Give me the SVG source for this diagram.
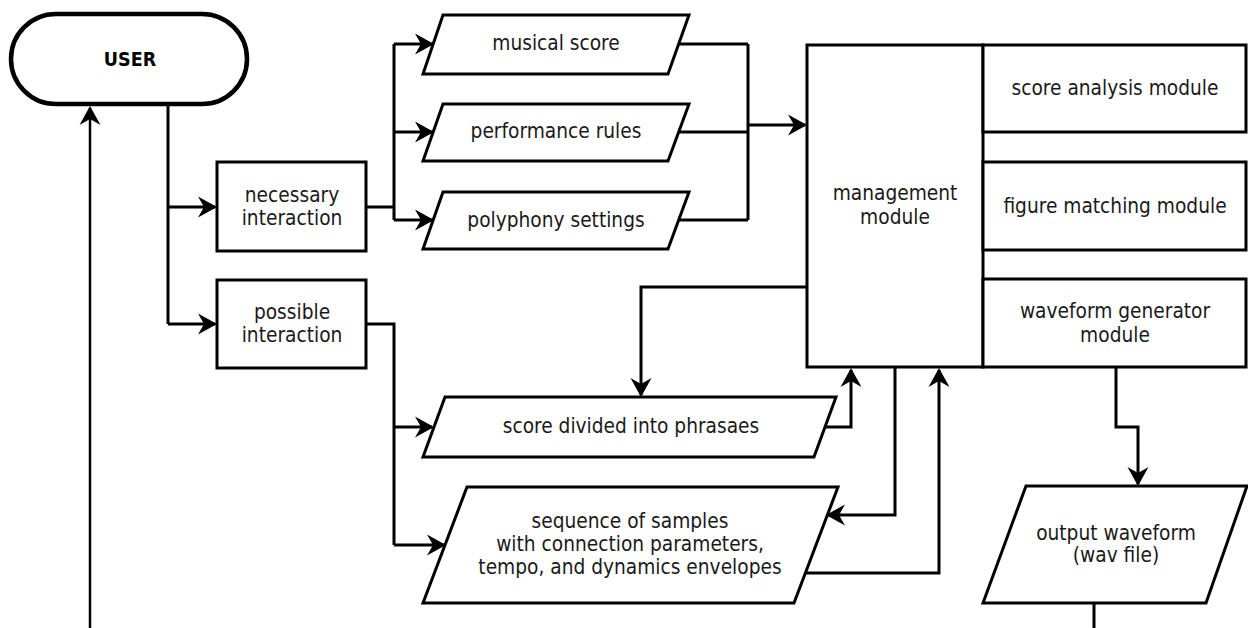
<svg xmlns="http://www.w3.org/2000/svg" width="1248" height="628" viewBox="0 0 1248 628">
<style>
.box{fill:#fff;stroke:#000;stroke-width:3}
.t{font-family:"DejaVu Sans Condensed","DejaVu Sans",sans-serif;font-size:20.7px;fill:#1a1a1a;text-anchor:middle}
.b{font-weight:bold;font-size:19.5px;fill:#000}
.c{fill:none;stroke:#000;stroke-width:3}
</style>
<defs>
<marker id="ah" markerUnits="userSpaceOnUse" markerWidth="20" markerHeight="22" viewBox="0 0 20 22" refX="17" refY="11" orient="auto">
<path d="M0,0.5 L19,11 L0,21.5 L6,11 Z" fill="#000"/>
</marker>
</defs>
<g id="connectors">
<path class="c" style="stroke-width:2.5" d="M90,628 V108" marker-end="url(#ah)"/>
<path class="c" d="M168,104 V324"/>
<path class="c" d="M168,207 H215" marker-end="url(#ah)"/>
<path class="c" d="M168,324 H215" marker-end="url(#ah)"/>
<path class="c" d="M366,207 H394 M394,44 V220"/>
<path class="c" d="M394,44 H432" marker-end="url(#ah)"/>
<path class="c" d="M394,132 H432" marker-end="url(#ah)"/>
<path class="c" d="M394,220 H432" marker-end="url(#ah)"/>
<path class="c" d="M678,44 H748 M678,132 H748 M678,220 H748 M748,44 V220"/>
<path class="c" d="M748,125 H805" marker-end="url(#ah)"/>
<path class="c" d="M807,287 H641 V395" marker-end="url(#ah)"/>
<path class="c" d="M825,427 H851 V370" marker-end="url(#ah)"/>
<path class="c" d="M366,324 H394 V545"/>
<path class="c" d="M394,427 H432" marker-end="url(#ah)"/>
<path class="c" d="M394,545 H444" marker-end="url(#ah)"/>
<path class="c" d="M895,367 V515 H828" marker-end="url(#ah)"/>
<path class="c" d="M806,573 H939 V370" marker-end="url(#ah)"/>
<path class="c" d="M1116,367 V427 H1138 V484" marker-end="url(#ah)"/>
<path class="c" d="M1094,603 V628"/>
</g>
<g id="user">
<rect x="11" y="14" width="236" height="90" rx="45" ry="45" fill="#fff" stroke="#000" stroke-width="4.5"/>
<text class="t b" x="130" y="66">USER</text>
</g>
<g id="necessary">
<rect class="box" x="217" y="162" width="149" height="89"/>
<text class="t" x="292" y="202">necessary</text>
<text class="t" x="292" y="225">interaction</text>
</g>
<g id="possible">
<rect class="box" x="217" y="280" width="149" height="88"/>
<text class="t" x="292" y="319">possible</text>
<text class="t" x="292" y="342">interaction</text>
</g>
<g id="musical-score">
<polygon class="box" points="443,15 689,15 668,74 423,74"/>
<text class="t" x="556" y="50">musical score</text>
</g>
<g id="performance-rules">
<polygon class="box" points="443,104 689,104 668,161 423,161"/>
<text class="t" x="556" y="138">performance rules</text>
</g>
<g id="polyphony-settings">
<polygon class="box" points="443,192 689,192 668,249 423,249"/>
<text class="t" x="556" y="227">polyphony settings</text>
</g>
<g id="management">
<rect class="box" x="807" y="45" width="176" height="322"/>
<text class="t" x="895" y="200">management</text>
<text class="t" x="895" y="224">module</text>
</g>
<g id="score-analysis">
<rect class="box" x="983" y="45" width="263" height="87"/>
<text class="t" x="1115" y="95">score analysis module</text>
</g>
<g id="figure-matching">
<rect class="box" x="983" y="162" width="263" height="88"/>
<text class="t" x="1115" y="213">figure matching module</text>
</g>
<g id="waveform-generator">
<rect class="box" x="983" y="279" width="263" height="88"/>
<text class="t" x="1115" y="318">waveform generator</text>
<text class="t" x="1115" y="342">module</text>
</g>
<g id="score-divided">
<polygon class="box" points="445,397 836,397 814,457 423,457"/>
<text class="t" x="631" y="433">score divided into phrasaes</text>
</g>
<g id="sequence">
<polygon class="box" points="467,487 838,487 794,603 423,603"/>
<text class="t" x="630" y="528">sequence of samples</text>
<text class="t" x="630" y="551">with connection parameters,</text>
<text class="t" x="630" y="574">tempo, and dynamics envelopes</text>
</g>
<g id="output">
<polygon class="box" points="1026,486 1247,486 1206,603 983,603"/>
<text class="t" x="1116" y="540">output waveform</text>
<text class="t" x="1116" y="562">(wav file)</text>
</g>
</svg>
